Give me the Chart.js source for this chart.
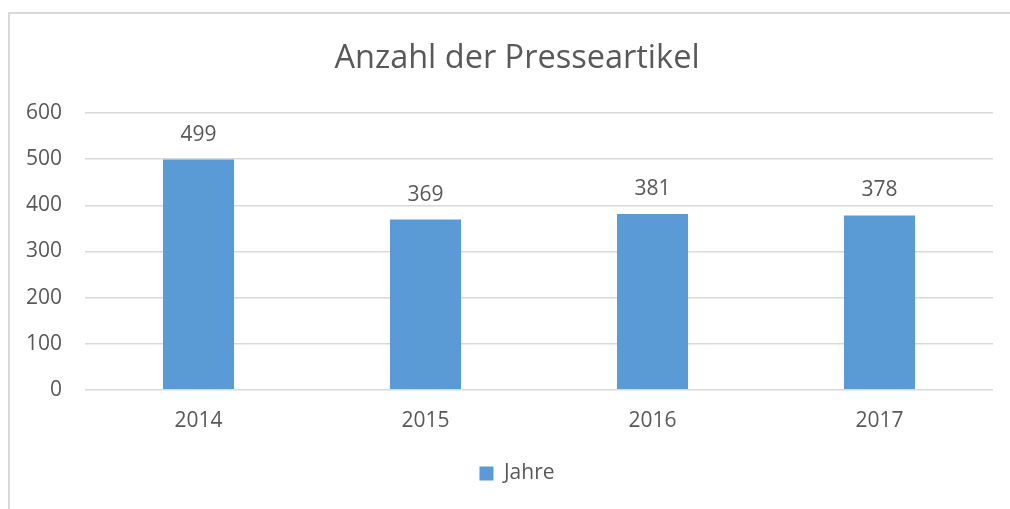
<!DOCTYPE html>
<html>
<head>
<meta charset="utf-8">
<script src="https://cdn.jsdelivr.net/npm/chart.js@4"></script>
<style>
    html, body { margin: 0; padding: 0; background: #fff; overflow: hidden; }
    #wrap { position: relative; width: 1010px; height: 509px; }
    #frame { position: absolute; left: 8px; top: 12px; width: 1100px; height: 600px; border-left: 2px solid #D9D9D9; border-top: 2px solid #D9D9D9; }
    canvas { position: absolute; left: 0; top: 0; }
</style>
</head>
<body>
<div id="wrap">
    <div id="frame"></div>
    <canvas id="chart" width="1010" height="509"></canvas>
</div>
<script>
const years = ['2014', '2015', '2016', '2017'];
const articles = [499, 369, 381, 378];
const seriesName = 'Jahre';
const chartTitle = 'Anzahl der Presseartikel';

const textColor = '#595959';
const barColor = '#5B9BD5';
const gridColor = '#D9D9D9';
const fontFamily = '"Open Sans", "Noto Sans", sans-serif';

// Werte über den Balken anzeigen
const valueLabels = {
    id: 'valueLabels',
    afterDatasetsDraw(chart) {
        const { ctx } = chart;
        const meta = chart.getDatasetMeta(0);
        ctx.save();
        ctx.font = `21px ${fontFamily}`;
        ctx.fillStyle = textColor;
        ctx.textAlign = 'center';
        ctx.textBaseline = 'middle';
        meta.data.forEach((bar, i) => {
            ctx.fillText(String(chart.data.datasets[0].data[i]), bar.x, bar.y - 25);
        });
        ctx.restore();
    }
};

const ctx = document.getElementById('chart').getContext('2d');
new Chart(ctx, {
    type: 'bar',
    data: {
        labels: years,
        datasets: [{
            label: seriesName,
            data: articles,
            backgroundColor: barColor,
            borderWidth: 0,
            categoryPercentage: 1,
            barPercentage: 0.313
        }]
    },
    options: {
        responsive: false,
        animation: false,
        // links Abstand + leere rechte Achse, damit Titel und Legende mittig im Rahmen sitzen
        layout: { padding: { left: 24, right: 0, top: 0, bottom: 15 } },
        scales: {
            x: {
                grid: { display: false, drawTicks: false },
                border: { display: false },
                ticks: { color: textColor, font: { family: fontFamily, size: 21 }, padding: 19 }
            },
            y: {
                min: 0,
                max: 600,
                afterFit: (scale) => { scale.width = 61; },
                grid: { color: gridColor, lineWidth: 1.5, drawTicks: false },
                border: { display: false },
                ticks: { stepSize: 100, color: textColor, font: { family: fontFamily, size: 21 }, padding: 23 }
            },
            yRight: {
                position: 'right',
                min: 0,
                max: 600,
                afterFit: (scale) => { scale.width = 17; },
                grid: { display: false, drawTicks: false },
                border: { display: false },
                ticks: { display: false }
            }
        },
        plugins: {
            title: {
                display: true,
                text: chartTitle,
                color: textColor,
                font: { family: fontFamily, size: 32.5, weight: 'normal' },
                padding: { top: 39, bottom: 35 }
            },
            legend: {
                position: 'bottom',
                labels: {
                    color: textColor,
                    font: { family: fontFamily, size: 21 },
                    boxWidth: 14,
                    boxHeight: 14,
                    padding: 10
                }
            },
            tooltip: { enabled: false }
        }
    },
    plugins: [valueLabels]
});
</script>
</body>
</html>
